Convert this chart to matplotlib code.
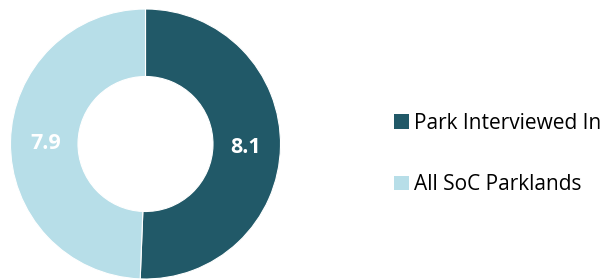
import matplotlib
matplotlib.use('Agg')
import matplotlib.pyplot as plt
import numpy as np

labels = ['Park Interviewed In', 'All SoC Parklands']
values = [8.1, 7.9]
colors = ['#215968', '#B7DEE8']

plt.rcParams['font.family'] = ['Open Sans', 'DejaVu Sans']

fig = plt.figure(figsize=(6.04, 2.8), dpi=100)
ax = fig.add_axes([10.5 / 604, 1 / 280, 270 / 604, 270 / 280])

wedges, texts = ax.pie(values, colors=colors, startangle=90, counterclock=False,
                       radius=1, wedgeprops=dict(width=0.5, edgecolor='white', linewidth=0.8))

# value labels in the middle of the ring
for w, v in zip(wedges, values):
    ang = np.deg2rad((w.theta1 + w.theta2) / 2)
    ax.text(0.74 * np.cos(ang), 0.74 * np.sin(ang) - 0.01, f'{v}', ha='center', va='center',
            color='white', fontsize=15.5, fontweight='bold')

ax.set_xlim(-1, 1)
ax.set_ylim(-1, 1)
ax.set_aspect('equal')

fig.legend(wedges, labels, loc='center left', bbox_to_anchor=(394 / 604, 126 / 280),
           frameon=False, fontsize=15, handlelength=0.72, handleheight=0.72,
           handletextpad=0.25, labelspacing=1.95, borderaxespad=0, borderpad=0)
for h in fig.legends[0].legend_handles:
    h.set_edgecolor('none')

fig.savefig('out.png', dpi=100)
